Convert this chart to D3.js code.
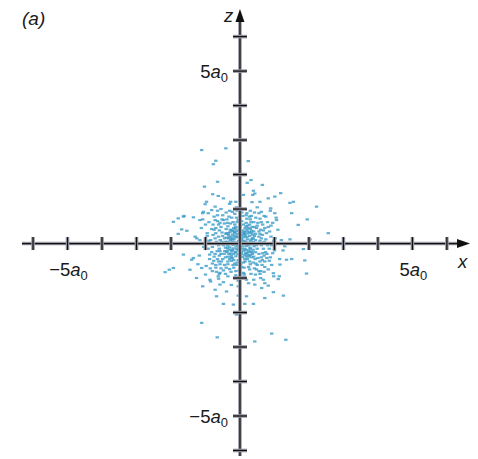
<!DOCTYPE html>
<html>
<head>
<meta charset="utf-8">
<script src="https://cdn.jsdelivr.net/npm/d3@7"></script>
<style>
  body { margin: 0; background: #fff; }
  svg text { font-family: "Liberation Sans", Arial, sans-serif; fill: #1a1a1a; }
</style>
</head>
<body>
<div id="chart"></div>
<script>
// tick positions (in units of a0) and the labelled ones
const tickValues = [-6, -5, -4, -3, -2, -1, 1, 2, 3, 4, 5, 6];
const labelValues = [-5, 5];

// electron positions (x, z) in units of a0
const outerPoints = [
  [-1.11, 2.71], [-0.41, 2.76], [-0.70, 2.40], [-0.77, 2.30], [0.24, 2.39],
  [-0.65, 1.79], [0.21, 1.76], [0.32, 1.84], [0.65, 1.70], [-1.03, 1.65],
  [1.18, 1.46], [-0.79, 1.43], [-0.63, 1.38], [2.22, 1.07], [1.45, 1.18],
  [1.95, 0.70], [1.69, 0.54], [-1.93, 0.63], [-1.79, 0.73], [-1.64, 0.78],
  [-1.35, 0.76], [-1.06, 0.92], [1.01, 1.36], [0.82, 1.31], [1.50, 0.88],
  [0.39, 1.53], [0.43, 1.45], [1.55, 1.21], [2.56, 0.30], [1.45, 0.12],
  [2.03, 0.12], [0.89, 1.02], [0.58, 1.21], [0.37, 1.41], [0.10, 1.41],
  [1.01, 0.88], [1.06, 0.68], [-0.48, 1.31], [-0.97, 1.21], [-1.01, 1.14],
  [-0.27, 1.21], [-0.12, 1.21], [-0.72, 1.07], [-0.82, 0.97], [-1.08, 0.88],
  [-1.62, 0.80], [-1.16, 0.68], [-1.69, 0.41], [-1.54, 0.37], [-1.79, 0.28],
  [-1.30, 0.20], [-1.16, 0.10], [-2.17, -0.83], [-2.05, -0.76], [-1.93, -0.71],
  [-1.64, -0.32], [-1.45, -0.76], [-1.40, -0.47], [-1.35, -0.42], [-1.26, -1.00],
  [-1.11, -0.71], [-1.08, -1.24], [-1.11, -2.30], [-0.66, -2.72], [-0.87, -1.05],
  [-0.72, -1.34], [-0.68, -1.53], [-0.48, -1.75], [-0.39, -1.39], [-0.19, -1.77],
  [-0.05, -1.51], [-0.05, -1.24], [-0.10, -2.06], [-0.58, -1.19], [-0.63, -0.95],
  [1.30, -0.08], [1.84, -0.16], [1.88, -0.49], [1.93, -0.87], [1.50, -0.45],
  [1.35, -0.47], [1.16, -0.61], [1.14, -0.95], [1.11, -1.03], [0.97, -0.86],
  [1.26, -1.51], [0.97, -1.41], [0.82, -1.22], [0.72, -1.58], [0.63, -1.29],
  [0.43, -1.19], [0.39, -1.75], [0.19, -1.53], [0.14, -1.75], [0.92, -2.61],
  [0.43, -2.84], [1.33, -2.79], [0.68, -1.05], [0.19, -1.05]
];

const innerPoints = [
  [0.05, 0.12], [-0.10, 0.03], [0.18, -0.07], [-0.22, 0.15], [0.31, 0.08], [-0.05, -0.20],
  [0.12, 0.27], [-0.30, -0.11], [0.24, -0.25], [-0.16, 0.33], [0.02, -0.35], [0.35, -0.02],
  [-0.37, 0.05], [0.09, 0.38], [-0.27, -0.29], [0.28, 0.22], [-0.08, 0.21], [0.15, -0.15],
  [-0.19, -0.04], [0.07, -0.08], [-0.33, 0.25], [0.21, 0.35], [-0.12, -0.37], [0.38, -0.18],
  [-0.24, 0.39], [0.00, 0.30], [0.33, 0.31], [-0.38, -0.25], [0.14, -0.33], [-0.04, 0.08],
  [0.26, 0.02], [-0.28, 0.09], [0.10, 0.18], [-0.14, -0.24], [0.19, -0.38], [-0.35, -0.38],
  [0.37, 0.15], [-0.21, 0.26], [0.04, -0.26], [0.30, -0.33], [-0.09, 0.36], [0.17, 0.05],
  [-0.31, -0.18], [0.23, 0.29], [-0.02, -0.13], [0.11, -0.21], [-0.17, 0.12], [0.29, -0.12],
  [-0.25, -0.35], [0.06, 0.24], [-0.39, 0.17], [0.34, 0.37], [-0.13, 0.18], [0.20, -0.29],
  [-0.06, -0.31], [0.39, 0.04], [-0.29, 0.33], [0.13, 0.33], [-0.22, -0.19], [0.25, -0.05],
  [-0.11, -0.09], [0.03, 0.15], [0.32, -0.24], [-0.36, -0.06], [0.16, 0.22], [-0.03, 0.39],
  [0.27, -0.38], [-0.18, -0.30], [0.08, -0.39], [-0.34, 0.30], [0.22, 0.12], [-0.07, -0.04],
  [0.36, 0.26], [-0.26, 0.20], [0.01, 0.02], [-0.15, 0.30], [0.18, -0.19], [-0.32, -0.30],
  [0.12, 0.08], [-0.20, -0.14]
];

const corePoints = [
  [-0.52, 0.70], [0.58, 0.72], [-0.70, -0.70], [0.72, -0.68], [-0.85, 0.10], [0.86, 0.35], [-0.15, 0.86], [0.10, -0.85],
  [-0.33, 0.15], [0.41, -0.08], [-0.46, -0.30], [0.22, 0.52], [-0.60, 0.38], [0.66, -0.28], [-0.08, -0.55], [0.32, 0.62],
  [-0.72, 0.15], [0.78, -0.42], [-0.26, -0.82], [0.18, 0.82], [-0.50, 0.82], [0.60, -0.80], [-0.88, -0.32], [0.90, 0.52],
  [-0.40, 0.28], [0.45, 0.28], [-0.35, -0.52], [0.28, -0.52], [-0.62, -0.05], [0.62, 0.15], [-0.05, 0.68], [0.02, -0.60],
  [-0.78, 0.55], [0.80, 0.62], [-0.68, -0.82], [0.58, -0.88], [-0.92, -0.15], [0.95, -0.28], [-0.30, 0.95], [0.42, 0.90],
  [-0.18, 0.45], [0.25, -0.68], [-0.55, -0.72], [0.50, 0.52], [-0.82, 0.42], [0.85, -0.15], [-0.12, -0.80], [0.05, 0.90],
  [-0.45, 0.15], [0.52, -0.42], [-0.22, -0.42], [0.38, 0.15], [-0.58, 0.60], [0.68, 0.38], [-0.75, -0.38], [0.72, -0.52],
  [-0.02, 0.45], [0.14, -0.45], [-0.42, -0.88], [0.32, -0.88], [-0.65, 0.82], [0.75, 0.78], [-0.90, 0.62], [0.92, -0.62],
  [-0.28, 0.40], [0.35, -0.25], [-0.50, -0.45], [0.42, 0.48], [-0.70, 0.45], [0.65, -0.48], [-0.38, -0.22], [0.20, 0.40],
  [-0.15, 0.55], [0.10, -0.55], [-0.58, -0.22], [0.58, 0.28], [-0.32, 0.78], [0.28, 0.78], [-0.48, -0.78], [0.48, -0.75],
  [-0.95, 0.22], [0.98, 0.08], [-0.80, -0.58], [0.82, 0.48], [-0.25, 0.12], [0.30, 0.42], [-0.42, -0.12], [0.46, -0.58],
  [-0.08, 0.95], [0.12, -0.95], [-0.62, -0.52], [0.62, 0.62], [-0.72, 0.68], [0.70, -0.82], [-0.86, -0.72], [0.88, -0.40],
  [-0.52, 0.05], [0.52, 0.00], [-0.18, -0.48], [0.18, 0.50], [-0.36, 0.60], [0.40, -0.38], [-0.60, -0.88], [0.55, 0.88],
  [-0.05, 0.18], [0.08, -0.15], [-0.20, 0.05], [0.22, -0.02], [-0.12, -0.26], [0.14, 0.28], [-0.28, -0.02], [0.30, -0.15],
  [-0.08, 0.28], [0.04, -0.30], [-0.24, -0.22], [0.20, 0.18], [-0.16, 0.22], [0.26, -0.20], [-0.32, 0.18], [0.33, 0.12],
  [-0.10, -0.16], [0.06, 0.06], [-0.02, -0.05], [0.16, -0.28], [-0.30, 0.02], [0.10, 0.32], [-0.20, 0.36], [0.28, 0.33],
  [-0.36, -0.14], [0.36, -0.30], [-0.14, 0.42], [0.02, 0.24], [-0.26, -0.40], [0.24, -0.34], [-0.40, 0.30], [0.42, 0.22]
];

const midPoints = [
  [0.45, 0.10], [-0.50, 0.22], [0.55, -0.30], [-0.42, -0.40], [0.10, 0.55], [-0.20, 0.62],
  [0.30, -0.60], [-0.60, -0.15], [0.65, 0.25], [-0.15, -0.58], [0.48, 0.45], [-0.55, 0.48],
  [0.62, -0.05], [-0.68, 0.05], [0.05, -0.68], [0.40, 0.62], [-0.45, -0.62], [0.70, -0.35],
  [-0.38, 0.70], [0.20, 0.72], [-0.72, -0.30], [0.58, -0.52], [-0.10, 0.75], [0.75, 0.12],
  [-0.78, 0.25], [0.28, -0.75], [-0.30, -0.74], [0.52, 0.60], [-0.62, 0.55], [0.44, -0.45],
  [-0.48, -0.05], [0.50, -0.15], [0.00, 0.50], [-0.05, -0.48], [0.60, 0.40], [-0.65, -0.45],
  [0.35, 0.48], [-0.35, 0.50], [0.42, -0.72], [-0.58, -0.60], [0.72, 0.45], [-0.75, 0.40],
  [0.15, -0.52], [-0.25, -0.50], [0.68, -0.15], [-0.52, 0.32], [0.25, 0.45], [-0.40, 0.42],
  [0.45, -0.25], [-0.44, -0.22], [0.80, -0.05], [-0.80, -0.10], [0.08, 0.80], [-0.02, -0.78],
  [0.55, 0.20], [-0.57, 0.10], [0.35, -0.40], [-0.30, -0.45], [0.18, 0.60], [-0.12, 0.48],
  [0.62, -0.40], [-0.66, -0.22], [0.30, 0.70], [-0.24, 0.75], [0.50, -0.62], [-0.40, -0.70],
  [0.74, -0.25], [-0.70, 0.30], [0.12, -0.70], [-0.18, -0.70], [0.40, 0.35], [-0.45, 0.58],
  [0.58, 0.08], [-0.60, -0.35], [0.22, -0.45], [-0.08, 0.62], [0.66, 0.55], [-0.54, -0.52],
  [0.46, 0.75], [-0.35, -0.60], [0.77, 0.30], [-0.76, -0.50], [0.05, 0.65], [-0.48, 0.68],
  [0.38, -0.55], [-0.62, 0.20], [0.55, 0.35], [-0.20, -0.62], [0.70, 0.05], [-0.42, 0.05],
  [0.28, 0.55], [-0.28, 0.58], [0.64, -0.62], [-0.70, -0.62], [0.15, 0.45], [-0.10, -0.62],
  [0.48, -0.05], [-0.55, -0.30], [0.33, 0.80], [-0.65, 0.65]
];

const rimPoints = [
  [0.90, 0.20], [-0.95, 0.30], [0.85, -0.50], [-0.88, -0.45], [0.30, 0.95], [-0.40, 0.90],
  [0.45, -0.90], [-0.35, -0.95], [1.00, -0.20], [-1.05, -0.10], [0.70, 0.80], [-0.75, 0.78],
  [0.82, -0.75], [-0.80, -0.80], [0.05, 1.00], [-0.10, 1.05], [0.15, -1.00], [-0.05, -1.08],
  [1.10, 0.40], [-1.12, 0.45], [0.95, 0.60], [-0.98, -0.65], [0.60, -1.00], [-0.62, -1.02],
  [1.15, -0.45], [-1.18, -0.35], [0.50, 1.05], [-0.55, 1.00], [0.25, -1.15], [-0.25, -1.20],
  [0.92, -0.05], [-0.90, 0.08], [0.88, 0.95], [-0.92, 0.88], [1.20, 0.10], [-1.25, 0.15],
  [0.35, 1.20], [-0.30, 1.15], [0.72, -1.15], [-0.85, -1.10], [1.05, 0.75], [-1.08, 0.70],
  [0.98, -0.95], [-1.00, -0.90], [0.20, 0.88], [-0.22, 0.92], [0.40, -1.05], [-0.48, -1.12],
  [1.25, -0.20], [-1.22, -0.60], [0.62, 0.92], [-0.65, 0.95], [0.78, -0.30], [-0.82, -0.25],
  [1.02, 0.15], [-1.00, 0.55], [0.12, -0.88], [-0.12, -0.92], [0.55, -0.80], [-0.58, -0.85]
];

const points = [].concat(outerPoints, rimPoints, midPoints, corePoints, innerPoints);

const width = 478, height = 459;
const svg = d3.select("#chart").append("svg")
    .attr("width", width)
    .attr("height", height);

// 1 a0 = 34.5 px, origin at (240, 243.5)
const x = d3.scaleLinear().domain([-6.32, 6.67]).range([22, 470]);
const z = d3.scaleLinear().domain([-6.16, 6.8]).range([456, 9]);

// dots first so the axes sit on top; each one is a short blue dash
svg.append("g")
  .selectAll("rect")
  .data(points)
  .join("rect")
    .attr("x", d => x(d[0]) - 1.7)
    .attr("y", d => z(d[1]) - 1.1)
    .attr("width", 3.4)
    .attr("height", 2.2)
    .attr("fill", "#3c9cc8")
    .attr("opacity", 0.8);

// axis lines: grey halo under a thin black stroke
const axisG = svg.append("g");
function halo(sel, x1, y1, x2, y2) {
  sel.append("line").attr("x1", x1).attr("y1", y1).attr("x2", x2).attr("y2", y2)
    .attr("stroke", "#9a9aa6").attr("stroke-width", 3.6);
  sel.append("line").attr("x1", x1).attr("y1", y1).attr("x2", x2).attr("y2", y2)
    .attr("stroke", "#111").attr("stroke-width", 1.3);
}
halo(axisG, x(-6.32), z(0), x(6.4), z(0));
halo(axisG, x(0), z(-6.16), x(0), z(6.5));

tickValues.forEach(v => {
  halo(axisG, x(v), z(0) - 6.5, x(v), z(0) + 6.5);
  halo(axisG, x(0) - 7, z(v), x(0) + 7, z(v));
});

// arrow heads
axisG.append("path")
  .attr("d", `M${x(6.67)},${z(0)} L${x(6.67) - 13},${z(0) - 4.5} L${x(6.67) - 13},${z(0) + 4.5} Z`)
  .attr("fill", "#111");
axisG.append("path")
  .attr("d", `M${x(0)},${z(6.8)} L${x(0) - 4.5},${z(6.8) + 13} L${x(0) + 4.5},${z(6.8) + 13} Z`)
  .attr("fill", "#111");

// tick labels like "5a0" with subscript
function aLabel(sel, v, px, py, anchor) {
  const t = sel.append("text")
    .attr("x", px).attr("y", py)
    .attr("text-anchor", anchor)
    .attr("font-size", 18.5);
  t.append("tspan").text((v < 0 ? "\u2212" : "") + Math.abs(v));
  t.append("tspan").attr("font-style", "italic").text("a");
  t.append("tspan").attr("font-size", 13).attr("dy", 4).text("0");
}
labelValues.forEach(v => {
  aLabel(svg, v, x(v) + 1, z(0) + 32, "middle");
  aLabel(svg, v, x(0) - 12, z(v) + 7, "end");
});

// axis names and panel label
svg.append("text").attr("x", x(6.67) - 12).attr("y", z(0) + 24)
  .attr("font-size", 18.5).attr("font-style", "italic").text("x");
svg.append("text").attr("x", x(0) - 16).attr("y", 22)
  .attr("font-size", 18.5).attr("font-style", "italic").text("z");
svg.append("text").attr("x", 22).attr("y", 25)
  .attr("font-size", 19).attr("font-style", "italic").text("(a)");
</script>
</body>
</html>
